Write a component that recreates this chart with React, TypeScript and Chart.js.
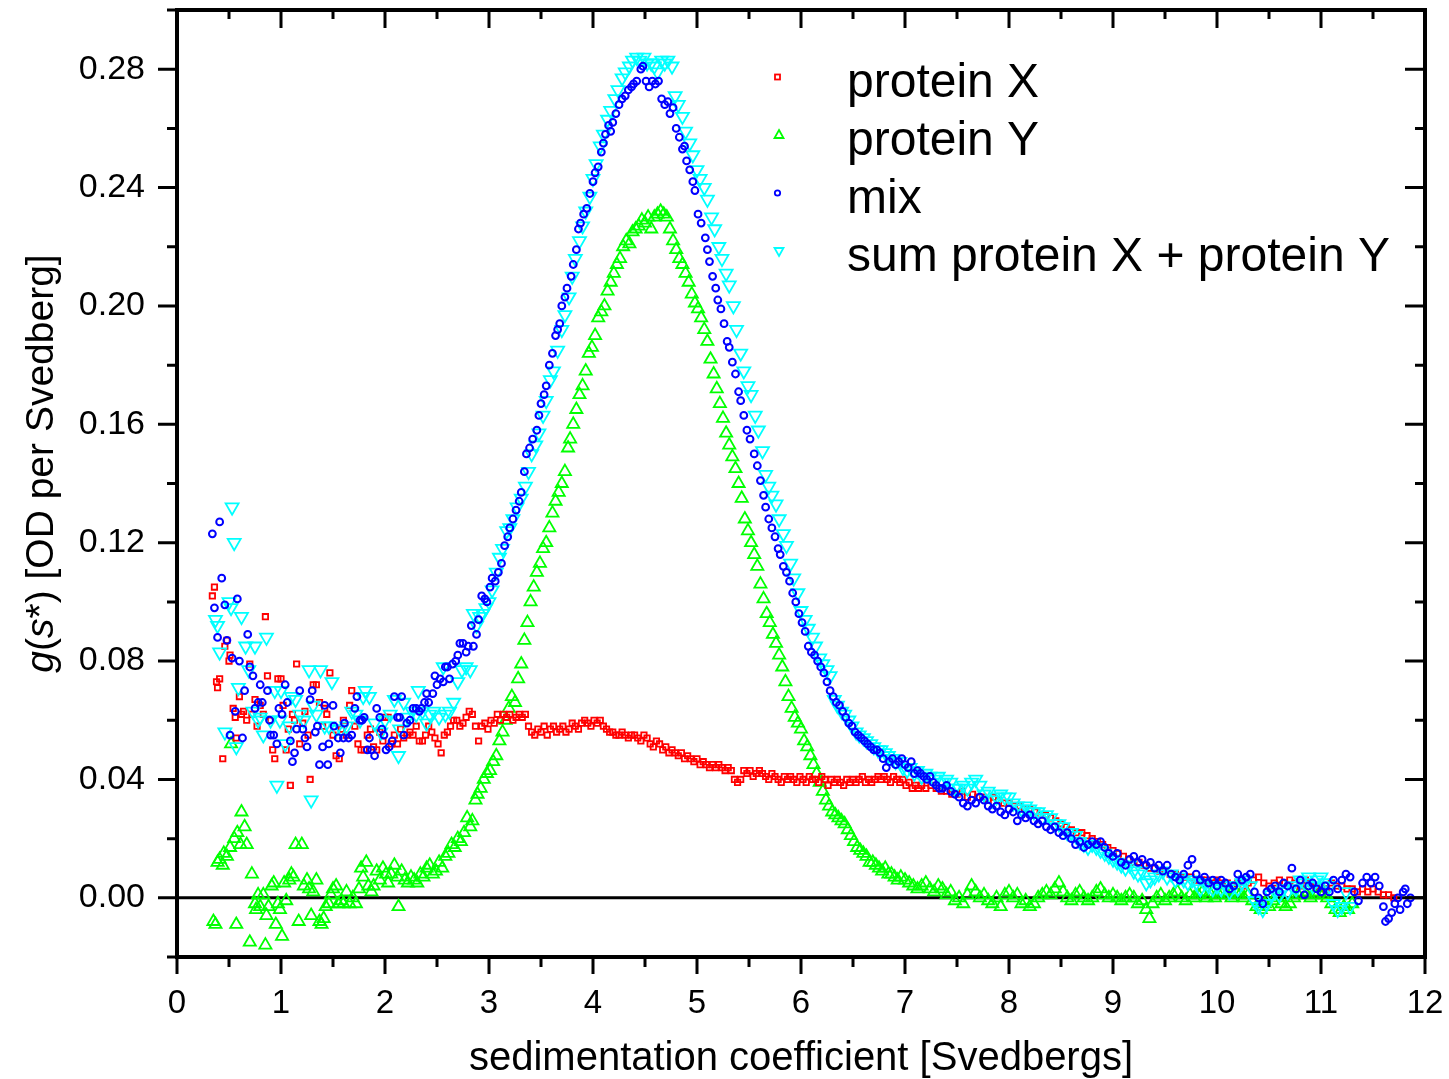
import React, { useEffect, useRef } from "react";
import { Chart, registerables } from "chart.js";

Chart.register(...registerables);

// ---------- data: [s (Svedbergs), g(s*)] ----------
const proteinX: [number, number][] = [
  [0.34,0.102],[0.36,0.105],[0.38,0.073],[0.39,0.071],[0.41,0.074],[0.44,0.047],[0.46,0.085],[0.48,0.087],[0.50,0.080],[0.51,0.082],
  [0.54,0.064],[0.56,0.061],[0.57,0.054],[0.60,0.068],[0.62,0.062],[0.64,0.063],[0.67,0.060],[0.70,0.079],[0.72,0.062],[0.75,0.067],
  [0.77,0.058],[0.80,0.065],[0.83,0.062],[0.85,0.095],[0.87,0.075],[0.90,0.060],[0.92,0.050],[0.94,0.047],[0.97,0.074],[1.00,0.074],
  [1.02,0.065],[1.05,0.050],[1.07,0.057],[1.09,0.038],[1.11,0.062],[1.13,0.060],[1.15,0.079],[1.18,0.052],[1.21,0.059],[1.23,0.063],
  [1.26,0.055],[1.28,0.040],[1.31,0.072],[1.34,0.072],[1.37,0.066],[1.40,0.058],[1.42,0.064],[1.44,0.062],[1.47,0.076],[1.50,0.055],
  [1.53,0.048],[1.56,0.047],[1.58,0.057],[1.60,0.060],[1.63,0.055],[1.66,0.065],[1.68,0.070],[1.71,0.058],[1.74,0.052],[1.77,0.050],
  [1.80,0.050],[1.83,0.055],[1.86,0.057],[1.89,0.051],[1.92,0.050],[1.95,0.056],[1.98,0.053],[2.00,0.061],[2.03,0.061],[2.06,0.052],
  [2.09,0.055],[2.12,0.052],[2.15,0.057],[2.18,0.054],[2.21,0.055],[2.24,0.056],[2.27,0.055],[2.30,0.058],[2.33,0.053],[2.36,0.053],
  [2.39,0.055],[2.42,0.058],[2.45,0.056],[2.48,0.054],[2.51,0.052],[2.54,0.049],[2.57,0.055],[2.60,0.056],[2.63,0.058],[2.66,0.060],
  [2.69,0.060],[2.72,0.058],[2.75,0.059],[2.78,0.061],[2.81,0.063],[2.84,0.062],[2.87,0.058],[2.90,0.053],[2.93,0.058],[2.96,0.059],
  [2.99,0.057],[3.02,0.060],[3.05,0.059],[3.08,0.062],[3.11,0.060],[3.14,0.062],[3.17,0.061],[3.20,0.062],[3.23,0.060],[3.26,0.061],
  [3.29,0.062],[3.32,0.061],[3.35,0.062],[3.38,0.058],[3.41,0.056],[3.44,0.055],[3.47,0.057],[3.50,0.056],[3.53,0.058],[3.56,0.055],
  [3.59,0.057],[3.62,0.058],[3.65,0.056],[3.68,0.057],[3.71,0.058],[3.74,0.056],[3.77,0.057],[3.80,0.059],[3.83,0.058],[3.86,0.057],
  [3.89,0.059],[3.92,0.060],[3.95,0.059],[3.98,0.058],[4.01,0.060],[4.04,0.059],[4.07,0.060],[4.10,0.058],[4.13,0.057],[4.16,0.056],
  [4.19,0.056],[4.22,0.055],[4.25,0.055],[4.28,0.056],[4.31,0.055],[4.34,0.054],[4.37,0.055],[4.40,0.055],[4.43,0.054],[4.46,0.053],
  [4.49,0.055],[4.52,0.054],[4.55,0.052],[4.58,0.051],[4.61,0.053],[4.64,0.052],[4.67,0.050],[4.70,0.051],[4.73,0.049],[4.76,0.050],
  [4.79,0.049],[4.82,0.048],[4.85,0.049],[4.88,0.047],[4.91,0.048],[4.94,0.047],[4.97,0.046],[5.00,0.047],[5.03,0.045],[5.06,0.046],
  [5.09,0.045],[5.12,0.044],[5.15,0.045],[5.18,0.044],[5.21,0.045],[5.24,0.044],[5.27,0.043],[5.30,0.044],[5.33,0.043],[5.36,0.040],
  [5.39,0.039],[5.42,0.040],[5.45,0.043],[5.48,0.042],[5.51,0.043],[5.54,0.041],[5.57,0.042],[5.60,0.043],[5.63,0.042],[5.66,0.041],
  [5.69,0.040],[5.72,0.042],[5.75,0.041],[5.78,0.040],[5.81,0.039],[5.84,0.041],[5.87,0.040],[5.90,0.041],[5.93,0.040],[5.96,0.039],
  [5.99,0.041],[6.02,0.040],[6.05,0.039],[6.08,0.041],[6.11,0.040],[6.14,0.040],[6.17,0.039],[6.20,0.041],[6.23,0.040],[6.26,0.038],
  [6.29,0.040],[6.32,0.039],[6.35,0.040],[6.38,0.039],[6.41,0.038],[6.44,0.040],[6.47,0.039],[6.50,0.040],[6.53,0.039],[6.56,0.040],
  [6.59,0.041],[6.62,0.039],[6.65,0.040],[6.68,0.039],[6.71,0.040],[6.74,0.041],[6.77,0.040],[6.80,0.041],[6.83,0.040],[6.86,0.039],
  [6.89,0.041],[6.92,0.040],[6.95,0.039],[6.98,0.040],[7.01,0.038],[7.04,0.039],[7.07,0.037],[7.10,0.038],[7.13,0.037],[7.16,0.038],
  [7.20,0.037],[7.25,0.038],[7.30,0.037],[7.35,0.036],[7.40,0.036],[7.45,0.035],[7.50,0.035],[7.55,0.036],[7.60,0.034],[7.65,0.035],
  [7.70,0.034],[7.75,0.034],[7.80,0.033],[7.85,0.034],[7.90,0.033],[7.95,0.032],[8.00,0.032],[8.05,0.031],[8.10,0.031],[8.15,0.030],
  [8.20,0.030],[8.25,0.029],[8.30,0.028],[8.35,0.028],[8.40,0.027],[8.45,0.026],[8.50,0.025],[8.55,0.024],[8.60,0.023],[8.65,0.022],
  [8.70,0.022],[8.75,0.021],[8.80,0.020],[8.85,0.019],[8.90,0.018],[8.95,0.017],[9.00,0.016],[9.05,0.015],[9.10,0.014],[9.15,0.013],
  [9.20,0.012],[9.25,0.012],[9.30,0.011],[9.35,0.010],[9.40,0.010],[9.45,0.009],[9.50,0.009],[9.55,0.008],[9.60,0.008],[9.65,0.007],
  [9.70,0.007],[9.75,0.007],[9.80,0.006],[9.85,0.006],[9.90,0.006],[9.95,0.005],[10.00,0.006],[10.05,0.005],[10.10,0.005],[10.15,0.004],
  [10.20,0.005],[10.25,0.004],[10.30,0.005],[10.35,0.006],[10.40,0.007],[10.45,0.005],[10.50,0.004],[10.55,0.005],[10.60,0.006],[10.65,0.005],
  [10.70,0.006],[10.75,0.005],[10.80,0.004],[10.85,0.006],[10.90,0.005],[10.95,0.004],[11.00,0.004],[11.05,0.003],[11.10,0.005],[11.15,0.004],
  [11.20,0.004],[11.25,0.003],[11.30,0.003],[11.35,0.002],[11.40,0.003],[11.45,0.002],[11.50,0.003],[11.55,0.002],[11.60,0.001],[11.65,0.001],
  [11.70,0.000],
];

const proteinY: [number, number][] = [
  [0.35,-0.008],[0.37,-0.009],[0.39,0.012],[0.41,0.013],[0.44,0.011],[0.45,0.015],[0.48,0.014],[0.51,0.017],[0.52,0.052],[0.55,0.020],
  [0.57,-0.009],[0.58,0.022],[0.61,0.018],[0.62,0.029],[0.65,0.024],[0.67,0.018],[0.70,-0.015],[0.72,0.008],[0.75,-0.002],[0.76,-0.004],
  [0.78,0.001],[0.80,-0.003],[0.83,0.001],[0.85,-0.016],[0.86,-0.006],[0.88,-0.003],[0.91,0.004],[0.93,0.005],[0.95,-0.009],[0.97,-0.002],
  [0.99,-0.004],[1.01,-0.013],[1.03,0.005],[1.05,-0.001],[1.08,0.006],[1.10,0.008],[1.12,0.007],[1.14,0.018],[1.17,-0.008],[1.20,0.018],
  [1.22,0.004],[1.25,0.006],[1.27,0.003],[1.29,-0.006],[1.31,0.002],[1.34,0.006],[1.37,-0.008],[1.39,-0.009],[1.41,-0.007],[1.43,-0.003],
  [1.46,-0.002],[1.48,0.001],[1.50,0.003],[1.53,0.004],[1.55,-0.002],[1.58,-0.001],[1.60,-0.002],[1.63,0.002],[1.66,-0.002],[1.69,0.000],
  [1.72,-0.002],[1.75,0.003],[1.77,0.010],[1.79,0.007],[1.82,0.012],[1.84,0.004],[1.87,0.002],[1.89,0.004],[1.92,0.009],[1.95,0.006],
  [1.98,0.010],[2.01,0.008],[2.03,0.005],[2.06,0.008],[2.09,0.011],[2.12,0.007],[2.13,-0.003],[2.16,0.009],[2.19,0.006],[2.22,0.005],
  [2.25,0.007],[2.28,0.006],[2.31,0.005],[2.34,0.008],[2.37,0.007],[2.40,0.010],[2.43,0.011],[2.46,0.008],[2.49,0.009],[2.52,0.012],
  [2.55,0.010],[2.58,0.014],[2.61,0.015],[2.64,0.018],[2.67,0.017],[2.70,0.020],[2.73,0.019],[2.76,0.022],[2.79,0.027],[2.82,0.024],
  [2.84,0.026],[2.87,0.033],[2.89,0.035],[2.92,0.037],[2.95,0.040],[2.98,0.042],[3.01,0.043],[3.04,0.046],[3.07,0.048],[3.10,0.053],
  [3.13,0.056],[3.16,0.060],[3.19,0.064],[3.22,0.068],[3.25,0.066],[3.28,0.074],[3.31,0.079],[3.34,0.087],[3.37,0.093],[3.40,0.100],
  [3.43,0.105],[3.46,0.110],[3.49,0.113],[3.52,0.118],[3.55,0.120],[3.58,0.125],[3.61,0.130],[3.64,0.134],[3.67,0.137],[3.70,0.140],
  [3.73,0.144],[3.76,0.152],[3.78,0.155],[3.81,0.160],[3.84,0.165],[3.87,0.170],[3.90,0.173],[3.93,0.178],[3.96,0.184],[3.99,0.186],
  [4.02,0.190],[4.05,0.196],[4.08,0.198],[4.11,0.200],[4.14,0.205],[4.17,0.208],[4.20,0.211],[4.23,0.214],[4.26,0.216],[4.29,0.220],
  [4.32,0.222],[4.35,0.221],[4.38,0.225],[4.41,0.226],[4.44,0.227],[4.47,0.229],[4.50,0.228],[4.53,0.230],[4.56,0.226],[4.59,0.230],
  [4.62,0.231],[4.65,0.232],[4.68,0.231],[4.71,0.230],[4.74,0.226],[4.77,0.222],[4.80,0.219],[4.83,0.216],[4.86,0.214],[4.89,0.211],
  [4.92,0.208],[4.95,0.204],[4.98,0.201],[5.01,0.199],[5.04,0.196],[5.07,0.192],[5.10,0.188],[5.13,0.182],[5.16,0.177],[5.19,0.172],
  [5.22,0.167],[5.25,0.162],[5.28,0.157],[5.31,0.153],[5.34,0.149],[5.37,0.145],[5.40,0.140],[5.43,0.135],[5.46,0.128],[5.49,0.124],
  [5.52,0.120],[5.55,0.116],[5.58,0.112],[5.61,0.106],[5.64,0.101],[5.67,0.096],[5.70,0.093],[5.73,0.089],[5.76,0.086],[5.79,0.082],
  [5.82,0.078],[5.85,0.073],[5.88,0.068],[5.91,0.064],[5.94,0.061],[5.97,0.059],[6.00,0.057],[6.03,0.053],[6.06,0.051],[6.09,0.048],
  [6.12,0.045],[6.15,0.042],[6.18,0.039],[6.21,0.036],[6.24,0.033],[6.27,0.031],[6.30,0.029],[6.33,0.028],[6.36,0.027],[6.39,0.026],
  [6.42,0.025],[6.45,0.023],[6.48,0.021],[6.51,0.019],[6.54,0.017],[6.57,0.016],[6.60,0.015],[6.63,0.014],[6.66,0.012],[6.69,0.012],
  [6.72,0.011],[6.75,0.010],[6.78,0.009],[6.81,0.010],[6.84,0.008],[6.87,0.008],[6.90,0.007],[6.93,0.006],[6.96,0.007],[7.00,0.006],
  [7.04,0.005],[7.08,0.004],[7.12,0.003],[7.16,0.004],[7.20,0.005],[7.24,0.003],[7.28,0.002],[7.32,0.004],[7.36,0.003],[7.40,0.001],
  [7.44,0.002],[7.48,-0.001],[7.52,0.000],[7.56,-0.002],[7.60,0.001],[7.64,0.004],[7.68,0.002],[7.72,0.000],[7.76,0.001],[7.80,-0.001],
  [7.84,-0.002],[7.88,0.000],[7.92,-0.003],[7.96,0.001],[8.00,0.002],[8.04,0.000],[8.08,0.001],[8.12,-0.002],[8.16,-0.001],[8.20,-0.003],
  [8.24,-0.002],[8.28,0.000],[8.32,0.001],[8.36,0.002],[8.40,0.001],[8.44,0.003],[8.48,0.005],[8.52,0.002],[8.56,0.000],[8.60,-0.001],
  [8.64,0.001],[8.68,0.002],[8.72,0.000],[8.76,-0.001],[8.80,0.000],[8.84,0.002],[8.88,0.003],[8.92,0.001],[8.96,0.000],[9.00,0.001],
  [9.04,0.000],[9.08,-0.001],[9.12,0.000],[9.16,0.001],[9.20,0.000],[9.24,-0.002],[9.28,-0.001],[9.32,-0.004],[9.35,-0.007],[9.38,-0.002],
  [9.42,0.000],[9.46,0.001],[9.50,-0.001],[9.54,0.000],[9.58,0.001],[9.62,0.002],[9.66,0.000],[9.70,-0.001],[9.74,0.001],[9.78,0.000],
  [9.82,0.001],[9.86,0.002],[9.90,0.000],[9.94,0.001],[9.98,0.000],[10.02,0.001],[10.06,0.002],[10.10,0.001],[10.14,0.000],[10.18,0.002],
  [10.22,0.001],[10.26,0.000],[10.30,0.001],[10.34,-0.001],[10.38,-0.003],[10.42,-0.004],[10.46,-0.002],[10.50,-0.003],[10.54,-0.001],[10.58,0.000],
  [10.62,-0.002],[10.66,-0.003],[10.70,-0.002],[10.74,0.000],[10.78,0.001],[10.82,0.002],[10.86,0.001],[10.90,0.000],[10.94,0.001],[10.98,0.002],
  [11.02,0.001],[11.06,0.000],[11.10,-0.002],[11.14,-0.004],[11.18,-0.005],[11.22,-0.003],[11.26,-0.004],[11.30,-0.002],
];

const mix: [number, number][] = [
  [0.34,0.123],[0.36,0.098],[0.39,0.088],[0.41,0.127],[0.43,0.108],[0.46,0.099],[0.48,0.087],[0.51,0.055],[0.53,0.081],[0.56,0.063],
  [0.58,0.101],[0.60,0.080],[0.63,0.054],[0.65,0.070],[0.68,0.089],[0.70,0.078],[0.73,0.075],[0.75,0.064],[0.78,0.066],[0.80,0.072],
  [0.82,0.066],[0.87,0.070],[0.89,0.060],[0.90,0.055],[0.93,0.055],[0.96,0.052],[0.98,0.064],[1.01,0.062],[1.04,0.072],[1.06,0.066],
  [1.09,0.053],[1.11,0.046],[1.13,0.049],[1.15,0.057],[1.18,0.070],[1.21,0.057],[1.23,0.054],[1.25,0.051],[1.28,0.067],[1.30,0.070],
  [1.33,0.056],[1.35,0.058],[1.37,0.045],[1.40,0.051],[1.42,0.065],[1.45,0.045],[1.46,0.052],[1.50,0.065],[1.51,0.058],[1.55,0.054],
  [1.57,0.049],[1.60,0.054],[1.61,0.059],[1.65,0.054],[1.68,0.055],[1.71,0.064],[1.73,0.068],[1.76,0.060],[1.78,0.060],[1.80,0.061],
  [1.83,0.050],[1.85,0.054],[1.87,0.050],[1.90,0.048],[1.92,0.064],[1.95,0.061],[1.97,0.057],[1.99,0.055],[2.01,0.050],[2.04,0.051],
  [2.07,0.053],[2.09,0.068],[2.12,0.061],[2.14,0.061],[2.16,0.068],[2.18,0.055],[2.21,0.059],[2.24,0.060],[2.27,0.064],[2.30,0.064],
  [2.33,0.063],[2.35,0.064],[2.38,0.066],[2.40,0.069],[2.42,0.066],[2.46,0.069],[2.48,0.075],[2.50,0.072],[2.53,0.074],[2.56,0.073],
  [2.58,0.078],[2.60,0.078],[2.62,0.074],[2.65,0.079],[2.68,0.080],[2.70,0.082],[2.72,0.086],[2.75,0.086],[2.78,0.083],[2.80,0.085],
  [2.83,0.092],[2.85,0.085],[2.88,0.089],[2.90,0.094],[2.93,0.102],[2.96,0.101],[2.98,0.100],[3.01,0.105],[3.03,0.108],[3.06,0.107],
  [3.09,0.110],[3.12,0.113],[3.15,0.119],[3.18,0.122],[3.20,0.125],[3.23,0.128],[3.26,0.131],[3.29,0.134],[3.31,0.137],[3.34,0.144],
  [3.36,0.150],[3.39,0.152],[3.42,0.155],[3.46,0.158],[3.48,0.163],[3.50,0.167],[3.53,0.170],[3.55,0.173],[3.58,0.180],[3.61,0.184],
  [3.64,0.190],[3.66,0.192],[3.68,0.194],[3.70,0.200],[3.73,0.203],[3.75,0.206],[3.79,0.210],[3.81,0.214],[3.84,0.219],[3.86,0.226],
  [3.88,0.228],[3.91,0.231],[3.94,0.233],[3.97,0.238],[4.00,0.242],[4.02,0.245],[4.05,0.247],[4.08,0.252],[4.10,0.255],[4.12,0.258],
  [4.15,0.261],[4.17,0.259],[4.19,0.262],[4.22,0.265],[4.25,0.268],[4.28,0.270],[4.31,0.271],[4.34,0.273],[4.37,0.274],[4.39,0.275],
  [4.42,0.276],[4.46,0.280],[4.48,0.281],[4.51,0.276],[4.54,0.274],[4.57,0.276],[4.60,0.275],[4.63,0.276],[4.66,0.270],[4.69,0.268],
  [4.72,0.269],[4.74,0.265],[4.77,0.267],[4.80,0.260],[4.83,0.257],[4.86,0.253],[4.88,0.254],[4.90,0.249],[4.93,0.246],[4.96,0.242],
  [4.98,0.239],[5.01,0.231],[5.04,0.228],[5.08,0.223],[5.10,0.219],[5.12,0.215],[5.15,0.210],[5.18,0.206],[5.20,0.202],[5.23,0.199],
  [5.26,0.194],[5.29,0.188],[5.31,0.186],[5.34,0.181],[5.37,0.177],[5.40,0.171],[5.42,0.168],[5.45,0.163],[5.48,0.158],[5.51,0.155],
  [5.55,0.150],[5.58,0.146],[5.61,0.141],[5.64,0.136],[5.66,0.132],[5.69,0.128],[5.72,0.125],[5.75,0.122],[5.78,0.118],[5.80,0.116],
  [5.83,0.112],[5.86,0.110],[5.89,0.107],[5.92,0.103],[5.95,0.100],[5.98,0.096],[6.01,0.093],[6.04,0.090],[6.07,0.085],[6.10,0.083],
  [6.13,0.082],[6.16,0.080],[6.19,0.078],[6.22,0.076],[6.25,0.073],[6.28,0.070],[6.31,0.068],[6.34,0.066],[6.37,0.065],[6.40,0.063],
  [6.43,0.061],[6.46,0.059],[6.49,0.058],[6.52,0.056],[6.55,0.055],[6.58,0.054],[6.61,0.053],[6.64,0.052],[6.67,0.051],[6.70,0.050],
  [6.73,0.050],[6.76,0.049],[6.79,0.047],[6.82,0.044],[6.85,0.046],[6.88,0.047],[6.91,0.045],[6.94,0.046],[6.97,0.047],[7.00,0.045],
  [7.03,0.044],[7.06,0.046],[7.09,0.042],[7.12,0.043],[7.15,0.042],[7.18,0.041],[7.21,0.040],[7.24,0.041],[7.27,0.039],[7.30,0.038],
  [7.33,0.037],[7.36,0.037],[7.40,0.038],[7.44,0.036],[7.48,0.035],[7.52,0.034],[7.56,0.032],[7.60,0.031],[7.64,0.033],[7.68,0.032],
  [7.72,0.034],[7.76,0.033],[7.80,0.031],[7.84,0.030],[7.88,0.031],[7.92,0.029],[7.96,0.028],[8.00,0.030],[8.04,0.029],[8.08,0.026],
  [8.12,0.028],[8.16,0.027],[8.20,0.028],[8.24,0.026],[8.28,0.025],[8.32,0.026],[8.36,0.024],[8.40,0.023],[8.44,0.024],[8.48,0.022],
  [8.52,0.021],[8.56,0.022],[8.60,0.020],[8.64,0.018],[8.68,0.019],[8.72,0.017],[8.76,0.018],[8.80,0.019],[8.84,0.018],[8.88,0.019],
  [8.92,0.017],[8.96,0.015],[9.00,0.014],[9.04,0.015],[9.08,0.012],[9.12,0.011],[9.16,0.013],[9.20,0.014],[9.24,0.012],[9.28,0.013],
  [9.32,0.011],[9.36,0.012],[9.40,0.010],[9.44,0.011],[9.48,0.009],[9.52,0.011],[9.56,0.008],[9.60,0.007],[9.64,0.006],[9.68,0.008],
  [9.72,0.011],[9.76,0.013],[9.80,0.008],[9.84,0.006],[9.88,0.007],[9.92,0.005],[9.96,0.006],[10.00,0.004],[10.04,0.006],[10.08,0.005],
  [10.12,0.003],[10.16,0.004],[10.20,0.008],[10.24,0.006],[10.28,0.007],[10.32,0.008],[10.36,0.002],[10.40,0.000],[10.44,-0.002],[10.48,0.002],
  [10.52,0.003],[10.56,0.004],[10.60,0.002],[10.64,0.005],[10.68,0.004],[10.72,0.010],[10.76,0.003],[10.80,0.006],[10.84,0.001],[10.88,0.004],
  [10.92,0.005],[10.96,0.003],[11.00,0.002],[11.04,0.004],[11.08,0.002],[11.12,0.006],[11.16,0.003],[11.20,0.006],[11.24,0.008],[11.28,0.007],
  [11.32,0.002],[11.36,-0.001],[11.40,0.005],[11.44,0.007],[11.48,0.005],[11.52,0.007],[11.56,0.004],[11.60,-0.003],[11.62,-0.008],[11.65,-0.007],
  [11.68,-0.005],[11.71,-0.002],[11.74,0.000],[11.76,-0.004],[11.79,0.002],[11.81,0.003],[11.83,-0.002],[11.86,0.000],
];

const sumXY: [number, number][] = [
  [0.37,0.094],[0.39,0.092],[0.41,0.083],[0.46,0.056],[0.50,0.100],[0.52,0.098],[0.53,0.132],[0.55,0.120],[0.57,0.051],[0.59,0.071],
  [0.62,0.095],[0.66,0.085],[0.69,0.077],[0.73,0.063],[0.75,0.085],[0.78,0.060],[0.80,0.061],[0.83,0.055],[0.86,0.088],[0.90,0.060],
  [0.94,0.070],[0.96,0.038],[0.99,0.060],[1.00,0.070],[1.04,0.052],[1.08,0.058],[1.10,0.068],[1.14,0.067],[1.18,0.062],[1.22,0.060],
  [1.27,0.077],[1.29,0.033],[1.31,0.065],[1.34,0.062],[1.38,0.077],[1.42,0.058],[1.46,0.058],[1.49,0.073],[1.53,0.057],[1.58,0.057],
  [1.63,0.058],[1.68,0.063],[1.72,0.062],[1.76,0.060],[1.79,0.068],[1.81,0.070],[1.85,0.068],[1.90,0.059],[1.96,0.056],[2.00,0.060],
  [2.05,0.062],[2.09,0.067],[2.13,0.048],[2.14,0.057],[2.18,0.066],[2.22,0.061],[2.26,0.063],[2.30,0.062],[2.32,0.070],[2.36,0.063],
  [2.40,0.059],[2.43,0.062],[2.47,0.063],[2.52,0.061],[2.56,0.078],[2.58,0.062],[2.62,0.063],[2.66,0.066],[2.70,0.073],[2.74,0.077],
  [2.78,0.078],[2.82,0.077],[2.85,0.096],[2.88,0.092],[2.91,0.095],[2.94,0.096],[2.97,0.098],[3.00,0.100],[3.03,0.104],[3.07,0.110],
  [3.10,0.115],[3.13,0.118],[3.17,0.124],[3.20,0.125],[3.23,0.128],[3.27,0.132],[3.31,0.135],[3.35,0.139],[3.38,0.144],[3.41,0.150],
  [3.45,0.153],[3.48,0.157],[3.52,0.163],[3.55,0.168],[3.59,0.175],[3.62,0.178],[3.66,0.185],[3.70,0.192],[3.73,0.197],[3.77,0.203],
  [3.80,0.210],[3.83,0.216],[3.87,0.222],[3.90,0.227],[3.93,0.232],[3.97,0.237],[4.00,0.243],[4.03,0.248],[4.07,0.254],[4.10,0.258],
  [4.14,0.263],[4.17,0.266],[4.21,0.270],[4.24,0.273],[4.28,0.277],[4.31,0.279],[4.35,0.281],[4.38,0.283],[4.42,0.284],[4.45,0.283],
  [4.49,0.284],[4.52,0.282],[4.56,0.282],[4.59,0.281],[4.62,0.279],[4.66,0.283],[4.69,0.282],[4.72,0.283],[4.76,0.281],[4.79,0.271],
  [4.82,0.268],[4.86,0.264],[4.89,0.259],[4.93,0.255],[4.96,0.251],[5.00,0.246],[5.03,0.243],[5.07,0.240],[5.10,0.236],[5.14,0.230],
  [5.17,0.226],[5.21,0.220],[5.24,0.216],[5.28,0.211],[5.31,0.207],[5.35,0.200],[5.38,0.192],[5.42,0.184],[5.45,0.178],[5.49,0.173],
  [5.52,0.170],[5.56,0.163],[5.59,0.158],[5.63,0.151],[5.66,0.143],[5.69,0.139],[5.72,0.136],[5.76,0.133],[5.79,0.128],[5.83,0.123],
  [5.86,0.119],[5.90,0.113],[5.93,0.108],[5.97,0.103],[6.00,0.097],[6.04,0.094],[6.07,0.091],[6.11,0.088],[6.14,0.085],[6.18,0.081],
  [6.21,0.079],[6.25,0.077],[6.28,0.075],[6.32,0.067],[6.35,0.065],[6.39,0.063],[6.42,0.062],[6.46,0.060],[6.49,0.058],[6.53,0.056],
  [6.56,0.055],[6.60,0.054],[6.63,0.053],[6.67,0.052],[6.70,0.051],[6.74,0.050],[6.77,0.050],[6.81,0.049],[6.84,0.048],[6.88,0.047],
  [6.91,0.046],[6.95,0.046],[6.98,0.044],[7.02,0.043],[7.05,0.044],[7.09,0.042],[7.12,0.043],[7.16,0.041],[7.20,0.042],[7.24,0.041],
  [7.28,0.040],[7.32,0.041],[7.36,0.039],[7.40,0.040],[7.44,0.039],[7.48,0.037],[7.52,0.037],[7.56,0.038],[7.60,0.037],[7.64,0.039],
  [7.68,0.040],[7.72,0.038],[7.76,0.035],[7.80,0.036],[7.84,0.033],[7.88,0.034],[7.92,0.035],[7.96,0.034],[8.00,0.034],[8.04,0.032],
  [8.08,0.031],[8.12,0.030],[8.16,0.031],[8.20,0.030],[8.24,0.029],[8.28,0.029],[8.32,0.027],[8.36,0.028],[8.40,0.027],[8.44,0.025],
  [8.48,0.025],[8.52,0.024],[8.56,0.022],[8.60,0.022],[8.64,0.021],[8.68,0.019],[8.72,0.018],[8.76,0.017],[8.80,0.018],[8.84,0.017],
  [8.88,0.016],[8.92,0.015],[8.96,0.014],[9.00,0.013],[9.04,0.012],[9.08,0.011],[9.12,0.010],[9.16,0.011],[9.20,0.009],[9.24,0.008],
  [9.28,0.009],[9.32,0.005],[9.36,0.006],[9.40,0.007],[9.44,0.008],[9.48,0.009],[9.52,0.007],[9.56,0.008],[9.60,0.006],[9.64,0.007],
  [9.68,0.006],[9.72,0.005],[9.76,0.006],[9.80,0.005],[9.84,0.003],[9.88,0.005],[9.92,0.004],[9.96,0.003],[10.00,0.004],[10.04,0.003],
  [10.08,0.004],[10.12,0.002],[10.16,0.004],[10.20,0.003],[10.24,0.005],[10.28,0.006],[10.32,0.004],[10.36,-0.001],[10.40,-0.003],[10.44,-0.004],
  [10.48,-0.002],[10.52,0.001],[10.56,0.002],[10.60,0.001],[10.64,0.003],[10.68,0.002],[10.72,0.004],[10.76,0.003],[10.80,0.006],[10.84,0.005],
  [10.88,0.007],[10.92,0.004],[10.96,0.006],[11.00,0.007],[11.04,0.005],[11.08,0.004],[11.12,-0.002],[11.16,-0.004],[11.20,-0.003],[11.24,0.002],
  [11.28,-0.003],
];

const seriesLabels = ["protein X", "protein Y", "mix", "sum protein X + protein Y"];
const xMajorTicks = [0, 1, 2, 3, 4, 5, 6, 7, 8, 9, 10, 11, 12];
const xMinorTicks = [0.5, 1.5, 2.5, 3.5, 4.5, 5.5, 6.5, 7.5, 8.5, 9.5, 10.5, 11.5];
const yMajorTicks = [0, 0.04, 0.08, 0.12, 0.16, 0.2, 0.24, 0.28];
const yMinorTicks = [-0.02, 0.02, 0.06, 0.1, 0.14, 0.18, 0.22, 0.26, 0.3];
const xTitle = "sedimentation coefficient [Svedbergs]";

const RED = "#ff0000";
const GREEN = "#00ff00";
const BLUE = "#0000ff";
const CYAN = "#00ffff";
const FONT = "'Liberation Sans', Arial, Helvetica, sans-serif";

const toPts = (arr: [number, number][]) => arr.map(([x, y]) => ({ x, y }));

const decorPlugin = {
  id: "decor",
  beforeDatasetsDraw(chart: any) {
    const { ctx, chartArea: a, scales } = chart;
    const y0 = scales.y.getPixelForValue(0);
    ctx.save();
    ctx.strokeStyle = "#000";
    ctx.lineWidth = 3;
    ctx.beginPath();
    ctx.moveTo(a.left, y0);
    ctx.lineTo(a.right, y0);
    ctx.stroke();
    ctx.restore();
  },
  afterDraw(chart: any) {
    const { ctx, chartArea: a, scales } = chart;
    const xs = scales.x;
    const ys = scales.y;
    ctx.save();
    ctx.strokeStyle = "#000";
    ctx.lineCap = "butt";
    // frame
    ctx.lineWidth = 4;
    ctx.strokeRect(a.left, a.top, a.right - a.left, a.bottom - a.top);
    ctx.lineWidth = 3;
    ctx.beginPath();
    for (const v of xMajorTicks) {
      const px = xs.getPixelForValue(v);
      ctx.moveTo(px, a.bottom); ctx.lineTo(px, a.bottom + 17);
      ctx.moveTo(px, a.top); ctx.lineTo(px, a.top + 18);
    }
    for (const v of xMinorTicks) {
      const px = xs.getPixelForValue(v);
      ctx.moveTo(px, a.bottom); ctx.lineTo(px, a.bottom + 10);
      ctx.moveTo(px, a.top); ctx.lineTo(px, a.top + 9);
    }
    for (const v of yMajorTicks) {
      const py = ys.getPixelForValue(v);
      ctx.moveTo(a.left, py); ctx.lineTo(a.left - 19, py);
      ctx.moveTo(a.right, py); ctx.lineTo(a.right - 20, py);
    }
    for (const v of yMinorTicks) {
      const py = ys.getPixelForValue(v);
      ctx.moveTo(a.left, py); ctx.lineTo(a.left - 10, py);
      ctx.moveTo(a.right, py); ctx.lineTo(a.right - 10, py);
    }
    ctx.stroke();

    // x title
    ctx.fillStyle = "#000";
    ctx.font = `40px ${FONT}`;
    ctx.textAlign = "center";
    ctx.textBaseline = "alphabetic";
    ctx.fillText(xTitle, (a.left + a.right) / 2, 1070);

    // y title with italic g and s
    const parts: [string, boolean][] = [["g", true], ["(", false], ["s", true], ["*) [OD per Svedberg]", false]];
    const fs = 39;
    let total = 0;
    for (const [t, it] of parts) {
      ctx.font = `${it ? "italic " : ""}${fs}px ${FONT}`;
      total += ctx.measureText(t).width;
    }
    ctx.translate(53, (a.top + a.bottom) / 2 - 20);
    ctx.rotate(-Math.PI / 2);
    ctx.textAlign = "left";
    let cx = -total / 2;
    for (const [t, it] of parts) {
      ctx.font = `${it ? "italic " : ""}${fs}px ${FONT}`;
      ctx.fillText(t, cx, 0);
      cx += ctx.measureText(t).width;
    }
    ctx.setTransform(1, 0, 0, 1, 0, 0);

    // legend
    const rowsY = [97, 155, 213, 271];
    const mk = [77, 135, 193, 251];
    ctx.lineWidth = 1.8;
    ctx.strokeStyle = RED;
    ctx.strokeRect(775, mk[0] - 2.5, 5, 5);
    ctx.strokeStyle = GREEN;
    ctx.beginPath();
    ctx.moveTo(779, mk[1] - 5); ctx.lineTo(783.5, mk[1] + 3); ctx.lineTo(774.5, mk[1] + 3); ctx.closePath();
    ctx.stroke();
    ctx.strokeStyle = BLUE;
    ctx.beginPath();
    ctx.arc(777.5, mk[2], 2.7, 0, Math.PI * 2);
    ctx.stroke();
    ctx.strokeStyle = CYAN;
    ctx.beginPath();
    ctx.moveTo(779, mk[3] + 5); ctx.lineTo(783.5, mk[3] - 3); ctx.lineTo(774.5, mk[3] - 3); ctx.closePath();
    ctx.stroke();

    ctx.fillStyle = "#000";
    ctx.font = `48px ${FONT}`;
    ctx.textAlign = "left";
    ctx.textBaseline = "alphabetic";
    seriesLabels.forEach((lbl, i) => ctx.fillText(lbl, 847, rowsY[i]));
    ctx.restore();
  },
};

export default function App() {
  const ref = useRef<HTMLCanvasElement | null>(null);
  useEffect(() => {
    if (!ref.current) return;
    const common = { showLine: false, pointBackgroundColor: "rgba(0,0,0,0)", backgroundColor: "rgba(0,0,0,0)" };
    const chart = new Chart(ref.current, {
      type: "scatter",
      data: {
        datasets: [
          { ...common, label: seriesLabels[2], data: toPts(mix), borderColor: BLUE, pointBorderColor: BLUE,
            pointStyle: "circle", pointRadius: 3.4, pointBorderWidth: 2 },
          { ...common, label: seriesLabels[3], data: toPts(sumXY), borderColor: CYAN, pointBorderColor: CYAN,
            pointStyle: "triangle", pointRotation: 180, pointRadius: 7.5, pointBorderWidth: 1.8 },
          { ...common, label: seriesLabels[0], data: toPts(proteinX), borderColor: RED, pointBorderColor: RED,
            pointStyle: "rect", pointRadius: 3.8, pointBorderWidth: 1.8 },
          { ...common, label: seriesLabels[1], data: toPts(proteinY), borderColor: GREEN, pointBorderColor: GREEN,
            pointStyle: "triangle", pointRadius: 7, pointBorderWidth: 1.8 },
        ],
      } as any,
      options: {
        responsive: false,
        animation: false,
        devicePixelRatio: 1,
        layout: { padding: { left: 0, top: 10, right: 24, bottom: 0 } },
        plugins: { legend: { display: false }, tooltip: { enabled: false } },
        events: [],
        scales: {
          x: {
            type: "linear",
            min: 0,
            max: 12,
            grid: { display: false, drawTicks: false },
            border: { display: false },
            afterBuildTicks: (s: any) => { s.ticks = xMajorTicks.map((v) => ({ value: v })); },
            afterFit: (s: any) => { s.height = 122; s.paddingLeft = 0; s.paddingRight = 0; },
            ticks: {
              color: "#000",
              font: { family: FONT, size: 33 },
              padding: 27,
              maxRotation: 0,
              autoSkip: false,
              callback: (v: any) => String(v),
            },
          },
          y: {
            type: "linear",
            min: -0.02,
            max: 0.30,
            grid: { display: false, drawTicks: false },
            border: { display: false },
            afterBuildTicks: (s: any) => { s.ticks = yMajorTicks.map((v) => ({ value: v })); },
            afterFit: (s: any) => { s.width = 177; s.paddingTop = 0; s.paddingBottom = 0; },
            ticks: {
              color: "#000",
              font: { family: FONT, size: 34 },
              padding: 32,
              autoSkip: false,
              callback: (v: any) => Number(v).toFixed(2),
            },
          },
        },
      } as any,
      plugins: [decorPlugin],
    });
    return () => chart.destroy();
  }, []);

  return (
    <div style={{ position: "absolute", left: 0, top: 0, width: 1449, height: 1079, background: "#fff" }}>
      <canvas ref={ref} width={1449} height={1079} style={{ display: "block", width: 1449, height: 1079 }} />
    </div>
  );
}
